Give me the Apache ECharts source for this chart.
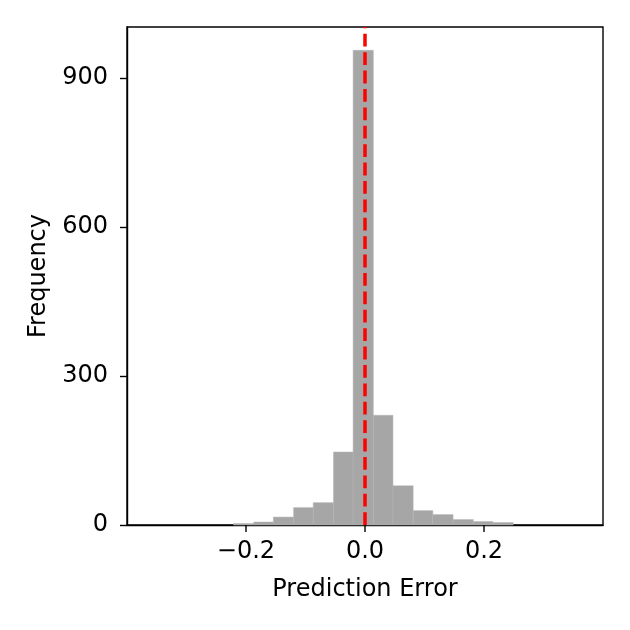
<!DOCTYPE html>
<html>
<head>
<meta charset="utf-8">
<script src="https://cdn.jsdelivr.net/npm/echarts@6/dist/echarts.min.js"></script>
<style>
  html, body { margin: 0; padding: 0; background: #fff; }
  #hist { width: 630px; height: 630px; }
</style>
</head>
<body>
<div id="hist"></div>
<script>
// bin edges (15 edges -> 14 bins)
const binEdges = [-0.221, -0.187, -0.154, -0.120, -0.087, -0.053, -0.020,
  0.014, 0.047, 0.081, 0.114, 0.148, 0.182, 0.215, 0.249];
const counts = [3, 6, 16, 35, 45, 147, 956, 221, 79, 29, 21, 11, 7, 5];
const xTicks = [-0.2, 0, 0.2];
const yTicks = [0, 300, 600, 900];
const refLineX = 0;

const histData = counts.map((c, i) => [binEdges[i], binEdges[i + 1], c]);

const chart = echarts.init(document.getElementById("hist"));
const font = "DejaVu Sans";
const fs = 24;

chart.setOption({
  animation: false,
  backgroundColor: "#fff",
  textStyle: { fontFamily: font },
  grid: {
    left: 127, right: 27, top: 27, bottom: 105,
    show: true, borderColor: "#000", borderWidth: 1.4, backgroundColor: "transparent"
  },
  xAxis: {
    type: "value",
    min: -0.4,
    max: 0.4,
    name: "Prediction Error",
    nameLocation: "middle",
    nameGap: 53,
    nameTextStyle: { fontSize: fs, color: "#000", fontFamily: font },
    axisLine: { show: true, onZero: false, lineStyle: { color: "#000", width: 1.4 } },
    axisTick: { show: false },
    axisLabel: {
      fontSize: fs, color: "#000", margin: 15, fontFamily: font,
      customValues: xTicks,
      formatter: (v) => (v < 0 ? "\u2212" : "") + Math.abs(v).toFixed(1)
    },
    splitLine: { show: false }
  },
  yAxis: {
    type: "value",
    min: 0,
    max: 1003,
    name: "Frequency",
    nameLocation: "middle",
    nameGap: 76,
    nameTextStyle: { fontSize: fs, color: "#000", fontFamily: font },
    axisLine: { show: true, onZero: false, lineStyle: { color: "#000", width: 1.4 } },
    axisTick: { show: true, inside: false, length: 7, lineStyle: { color: "#000", width: 1.4 }, customValues: yTicks },
    axisLabel: { fontSize: fs, color: "#000", margin: 19, fontFamily: font, customValues: yTicks, padding: [5, 0, 0, 0] },
    splitLine: { show: false }
  },
  series: [
    {
      type: "custom",
      data: histData,
      encode: { x: [0, 1], y: 2 },
      renderItem: function (params, api) {
        const topLeft = api.coord([api.value(0), api.value(2)]);
        const bottomRight = api.coord([api.value(1), 0]);
        return {
          type: "rect",
          shape: {
            x: topLeft[0],
            y: topLeft[1],
            width: bottomRight[0] - topLeft[0],
            height: bottomRight[1] - topLeft[1]
          },
          style: { fill: "#a6a6a6", stroke: "#b4b4b4", lineWidth: 0.5 }
        };
      },
      z: 2
    },
    {
      type: "line",
      data: [[refLineX, 0], [refLineX, 1003]],
      symbol: "none",
      lineStyle: { color: "#ff0000", width: 3.5, type: [12.8, 5.6] },
      z: 5
    }
  ]
});

// x tick marks: placed through the chart's own scale, on their own layer
const tickMarks = xTicks.map((v) => {
  const p = chart.convertToPixel({ xAxisIndex: 0, yAxisIndex: 0 }, [v, 0]);
  return {
    type: "rect",
    silent: true,
    zlevel: 1,
    z: 100,
    shape: { x: Math.round(p[0]) - 0.7, y: p[1], width: 1.4, height: 7 },
    style: { fill: "#000" }
  };
});
chart.setOption({ graphic: { elements: tickMarks } });
</script>
</body>
</html>
